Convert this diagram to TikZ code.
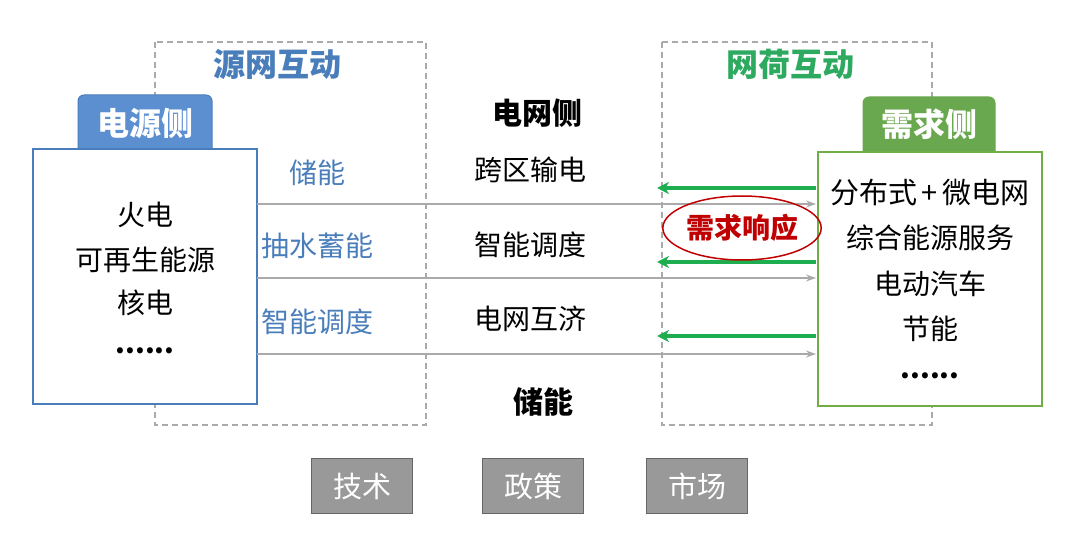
\documentclass[tikz,border=0pt]{standalone}
\usepackage{fontspec}
\setmainfont{Noto Sans CJK SC}
\usetikzlibrary{arrows.meta,shapes.geometric}
\definecolor{sblue}{HTML}{4A7EBB}
\definecolor{tabblue}{HTML}{5B8FD0}
\definecolor{tgreen}{HTML}{2EAA60}
\definecolor{tabgreen}{HTML}{6AA84F}
\definecolor{bgreen}{HTML}{70AD47}
\definecolor{agreen}{HTML}{1FAE4F}
\definecolor{rred}{HTML}{C00000}
\definecolor{lgray}{HTML}{AAAAAA}
\definecolor{dgray}{HTML}{999999}
\begin{document}
\begin{tikzpicture}[x=1pt,y=-1pt,
  txt/.style={font=\fontsize{28}{32}\selectfont, inner sep=0pt},
  ttl/.style={font=\fontsize{32}{36}\selectfont\bfseries, inner sep=0pt},
  dbox/.style={draw=lgray, dashed, line width=1.2pt, dash pattern=on 6pt off 4pt},
  tab/.style={rounded corners=6pt, line width=1pt},
  gline/.style={draw=lgray, line width=1.2pt, -{Stealth[length=10pt,width=7pt]}},
  garrow/.style={draw=agreen, line width=4.5pt, -{Stealth[length=12pt,width=12pt]}},
  bbox/.style={fill=dgray, draw=gray!80!black, line width=1pt, minimum width=101pt, minimum height=54pt, font=\fontsize{29}{32}\selectfont, text=white, inner sep=0pt}
]
\useasboundingbox (0,0) rectangle (1080,537);
% dashed boxes
\draw[dbox] (155,42) rectangle (426,425);
\draw[dbox] (662,42) rectangle (932,425);
\node[ttl, text=sblue] (t1) at (277,64) {源网互动};
\node[ttl, text=tgreen] (t2) at (790,64) {网荷互动};
% left box
\draw[tab, fill=tabblue, draw=sblue] (78,148) -- (78,95) -- (212,95) -- (212,148);
\node[ttl, text=white] (lt) at (145,123) {电源侧};
\draw[draw=sblue, fill=white, line width=1.2pt] (33,149) rectangle (257,404);
\coordinate (lr1) at (257,204);
\coordinate (lr2) at (257,278);
\coordinate (lr3) at (257,354);
\node[txt] (l1) at (145,215) {火电};
\node[txt] (l2) at (145,260) {可再生能源};
\node[txt] (l3) at (145,303) {核电};
\node[txt, font=\fontsize{28}{32}\selectfont\bfseries] (l4) at (145,351) {......};
% right box
\draw[tab, fill=tabgreen, draw=tabgreen] (863,151) -- (863,97) -- (995,97) -- (995,151);
\node[ttl, text=white] (rt) at (929,124) {需求侧};
\draw[draw=bgreen, fill=white, line width=1.2pt] (818,152) rectangle (1042,406);
\coordinate (rr1) at (816,204);
\coordinate (rr2) at (816,278);
\coordinate (rr3) at (816,354);
\coordinate (ra1) at (816,188);
\coordinate (ra2) at (816,262);
\coordinate (ra3) at (816,336);
\coordinate (ae1) at (657,188);
\coordinate (ae2) at (657,262);
\coordinate (ae3) at (657,336);
\node[txt, font=\fontsize{29}{32}\selectfont] (r1) at (930,193) {分布式{\,}+{\,}微电网};
\node[txt] (r2) at (930,238) {综合能源服务};
\node[txt] (r3) at (930,284) {电动汽车};
\node[txt] (r4) at (930,329) {节能};
\node[txt, font=\fontsize{28}{32}\selectfont\bfseries] (r5) at (930,376) {......};
% blue labels
\node[txt, text=sblue] (b1) at (317,173) {储能};
\node[txt, text=sblue] (b2) at (317,246) {抽水蓄能};
\node[txt, text=sblue] (b3) at (317,322) {智能调度};
% middle
\node[ttl, font=\fontsize{30}{34}\selectfont\bfseries] (m0) at (537,113) {电网侧};
\node[txt] (m1) at (530,170) {跨区输电};
\node[txt] (m2) at (530,245) {智能调度};
\node[txt] (m3) at (530,319) {电网互济};
\node[ttl, font=\fontsize{30}{34}\selectfont\bfseries] (m4) at (543,402) {储能};
% lines
\draw[gline] (lr1) -- (rr1);
\draw[gline] (lr2) -- (rr2);
\draw[gline] (lr3) -- (rr3);
\draw[garrow] (ra1) -- (ae1);
\draw[garrow] (ra2) -- (ae2);
\draw[garrow] (ra3) -- (ae3);
% ellipse
\node[ellipse, draw=rred, line width=1.5pt, minimum width=156pt, minimum height=64pt, inner sep=0pt, text=rred, font=\fontsize{28}{32}\selectfont\bfseries] (dr) at (742,228) {需求响应};
% bottom boxes
\node[bbox] (k1) at (362,486) {技术};
\node[bbox] (k2) at (533,486) {政策};
\node[bbox] (k3) at (697,486) {市场};
\end{tikzpicture}
\end{document}
